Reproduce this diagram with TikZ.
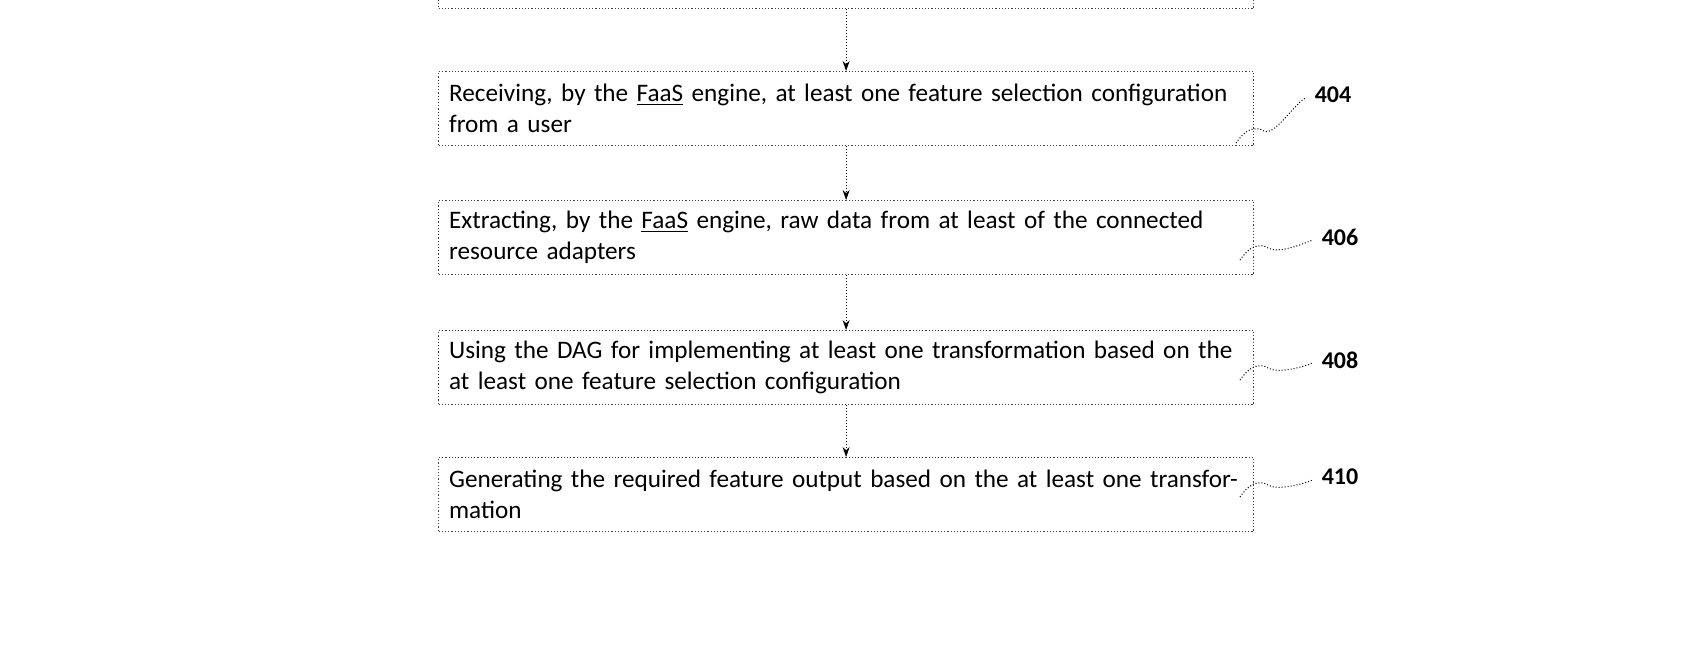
\documentclass[tikz,border=0pt]{standalone}
\usepackage{fontspec}
\setmainfont{Carlito}
\usetikzlibrary{arrows.meta,calc}
\begin{document}
\begin{tikzpicture}[x=0.5pt,y=-0.5pt,
  box/.style={draw=black!75,densely dotted,line width=0.6pt,minimum width=407.5pt,minimum height=37pt,align=left,text width=397pt,inner xsep=5pt,inner ysep=0pt,anchor=north west,font=\fontsize{12.6}{15.5}\selectfont},
  arr/.style={-{Stealth[length=5pt,width=3.5pt]},line width=0.5pt,densely dotted},
  lbl/.style={font=\bfseries\fontsize{12}{14}\selectfont},
  sq/.style={densely dotted,line width=0.5pt}]
\useasboundingbox (0,0) rectangle (1700,650);
\begin{scope}
\clip (0,0) rectangle (1700,650);
\node[box,minimum height=30pt] (b1) at (438,-52) {};
\end{scope}
\node[box] (b2) at (438,71) {\raggedright Receiving, by the \underbar{FaaS} engine, at least one feature selection configuration from a user};
\node[box] (b3) at (438,200) {\raggedright Extracting, by the \underbar{FaaS} engine, raw data from at least of the connected resource adapters};
\node[box] (b4) at (438,330) {\raggedright Using the DAG for implementing at least one transformation based on the at least one feature selection configuration};
\node[box] (b5) at (438,457) {\raggedright Generating the required feature output based on the at least one transformation};
\draw[arr] (b1.south) -- (b2.north);
\draw[arr] (b2.south) -- (b3.north);
\draw[arr] (b3.south) -- (b4.north);
\draw[arr] (b4.south) -- (b5.north);
\node[lbl] (l4) at (1333,95) {404};
\node[lbl] (l6) at (1340,237) {406};
\node[lbl] (l8) at (1340,360) {408};
\node[lbl] (l0) at (1340,477) {410};
\coordinate (s4) at (1236,143);
\coordinate (s6) at (1240,260);
\coordinate (s8) at (1240,380);
\coordinate (s0) at (1240,497);
\foreach \s/\l in {s4/l4,s6/l6,s8/l8,s0/l0}{
  \draw[sq] (\s) .. controls +(8,-12) and +(-10,-6) .. ++(28,-12) .. controls +(10,6) and +(-10,4) .. ($(\l.west)+(-2,3)$);
}
\end{tikzpicture}
\end{document}
